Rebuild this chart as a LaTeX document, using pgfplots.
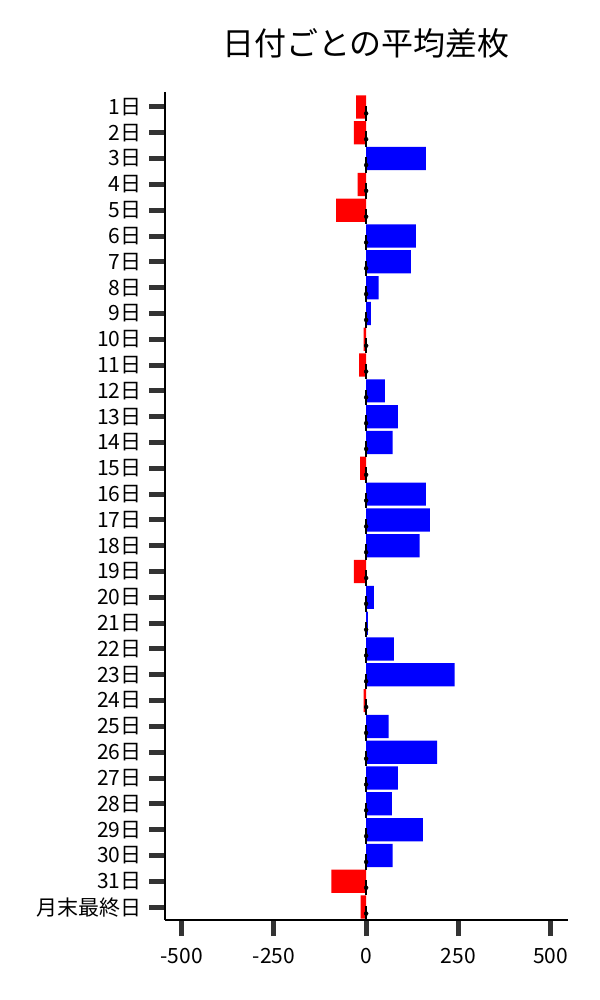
\documentclass[border=0pt]{standalone}
\usepackage{fontspec}
\setmainfont{Noto Sans CJK JP}
\usepackage{pgfplots}
\pgfplotsset{compat=1.18}
\definecolor{tickgray}{HTML}{333333}
\begin{document}
\begin{tikzpicture}[x=1bp,y=1bp]
\useasboundingbox (0,0) rectangle (600,1000);
\node[font=\fontsize{32bp}{38bp}\selectfont] at (366,957) {日付ごとの平均差枚};
\begin{axis}[
  at={(165bp,80bp)}, anchor=south west,
  width=403bp, height=828bp, scale only axis,
  xmin=-545, xmax=547, ymin=-0.58, ymax=31.5, y dir=reverse,
  axis x line*=bottom, axis y line*=left,
  axis line style={line width=1.3bp, black, -},
  xtick={-500,-250,0,250,500},
  ytick={0,...,31},
  yticklabels={1日,2日,3日,4日,5日,6日,7日,8日,9日,10日,11日,12日,13日,14日,15日,16日,17日,18日,19日,20日,21日,22日,23日,24日,25日,26日,27日,28日,29日,30日,31日,月末最終日},
  tick align=outside,
  major tick length=16bp,
  tick style={line width=5bp, tickgray},
  ticklabel style={font=\fontsize{21bp}{25bp}\selectfont},
  xticklabel style={yshift=-9bp},
  yticklabel style={xshift=-4bp},
  /pgf/number format/assume math mode=true,
  /pgf/number format/.cd, 1000 sep={},
]
\addplot[xbar, bar width=0.9, bar shift=0pt, fill=blue, draw=none] coordinates {
(162,2) (135,5) (121,6) (34,7) (13,8) (51,11) (86,12) (72,13) (162,15) (173,16) (145,17) (21,19) (5,20) (75,21) (240,22) (61,24) (192,25) (86,26) (70,27) (154,28) (72,29)
};
\addplot[xbar, bar width=0.9, bar shift=0pt, fill=red, draw=none] coordinates {
(-27,0) (-33,1) (-23,3) (-81,4) (-7,9) (-19,10) (-16,14) (-33,18) (-7,23) (-94,30) (-15,31)
};
\addplot[only marks, mark=none, error bars/.cd, y dir=both, y explicit, error mark=none, error bar style={line width=2.4bp, black}] coordinates {
(0,0.25) +- (0,0.3) (0,1.25) +- (0,0.3) (0,2.25) +- (0,0.3) (0,3.25) +- (0,0.3)
(0,4.25) +- (0,0.3) (0,5.25) +- (0,0.3) (0,6.25) +- (0,0.3) (0,7.25) +- (0,0.3)
(0,8.25) +- (0,0.3) (0,9.25) +- (0,0.3) (0,10.25) +- (0,0.3) (0,11.25) +- (0,0.3)
(0,12.25) +- (0,0.3) (0,13.25) +- (0,0.3) (0,14.25) +- (0,0.3) (0,15.25) +- (0,0.3)
(0,16.25) +- (0,0.3) (0,17.25) +- (0,0.3) (0,18.25) +- (0,0.3) (0,19.25) +- (0,0.3)
(0,20.25) +- (0,0.3) (0,21.25) +- (0,0.3) (0,22.25) +- (0,0.3) (0,23.25) +- (0,0.3)
(0,24.25) +- (0,0.3) (0,25.25) +- (0,0.3) (0,26.25) +- (0,0.3) (0,27.25) +- (0,0.3)
(0,28.25) +- (0,0.3) (0,29.25) +- (0,0.3) (0,30.25) +- (0,0.3) (0,31.25) +- (0,0.3)
};
\end{axis}
\end{tikzpicture}
\end{document}
